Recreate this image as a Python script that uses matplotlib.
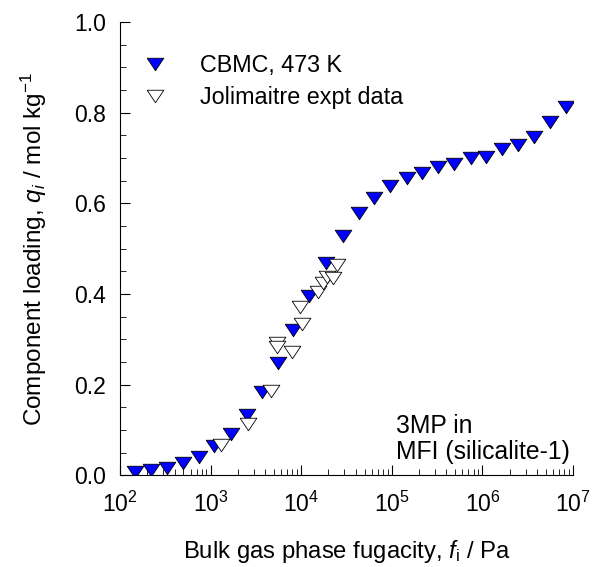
import numpy as np
from matplotlib import pyplot as plt

plt.rcParams['font.family'] = ['Liberation Sans', 'DejaVu Sans']
plt.rcParams['mathtext.fontset'] = 'custom'
plt.rcParams['mathtext.rm'] = 'Liberation Sans'
plt.rcParams['mathtext.it'] = 'Liberation Sans:italic'

# CBMC simulations, 473 K
cbmc_logf = [2.166, 2.339, 2.515, 2.692, 2.869, 3.038, 3.222, 3.398, 3.564, 3.747,
             3.913, 4.086, 4.268, 4.458, 4.641, 4.807, 4.980, 5.164, 5.330, 5.513,
             5.687, 5.871, 6.040, 6.220, 6.396, 6.570, 6.746, 6.923]
cbmc_q = [0.008, 0.011, 0.016, 0.027, 0.041, 0.064, 0.092, 0.133, 0.183, 0.248,
          0.320, 0.396, 0.468, 0.528, 0.578, 0.611, 0.638, 0.657, 0.668, 0.680,
          0.687, 0.699, 0.702, 0.719, 0.729, 0.746, 0.780, 0.812]

# Jolimaitre experimental data
expt_logf = [3.115, 3.409, 3.667, 3.730, 3.730, 3.902, 3.987, 4.014, 4.189, 4.244,
             4.288, 4.354, 4.392]
expt_q = [0.067, 0.114, 0.186, 0.292, 0.283, 0.273, 0.372, 0.334, 0.405, 0.424,
          0.438, 0.435, 0.464]

cbmc_f = np.power(10.0, cbmc_logf)
expt_f = np.power(10.0, expt_logf)

# flattened down-pointing triangle
tri = [(-1, 0.75), (1, 0.75), (0, -0.75), (-1, 0.75)]

fig = plt.figure(figsize=(5.92, 5.67), dpi=100)
ax = fig.add_axes([0.2027, 0.1614, 0.7653, 0.7998])

ax.plot(cbmc_f, cbmc_q, linestyle='none', marker=tri, markersize=12,
        markerfacecolor='#0000FF', markeredgecolor='black', markeredgewidth=0.6,
        label='CBMC, 473 K')
ax.plot(expt_f, expt_q, linestyle='none', marker=tri, markersize=12,
        markerfacecolor='white', markeredgecolor='black', markeredgewidth=0.6,
        label='Jolimaitre expt data')

ax.set_xscale('log')
ax.set_xlim(1e2, 1e7)
ax.set_ylim(0, 1.0)
ax.set_yticks([0.0, 0.2, 0.4, 0.6, 0.8, 1.0])
ax.set_yticklabels(['0.0', '0.2', '0.4', '0.6', '0.8', '1.0'])
ax.set_yticks(np.arange(0, 1.0001, 0.05), minor=True)
ax.set_xticks([1e2, 1e3, 1e4, 1e5, 1e6, 1e7])
ax.set_xticklabels(['10$^{%d}$' % k for k in range(2, 8)])

ax.spines['top'].set_visible(False)
ax.spines['right'].set_visible(False)
ax.tick_params(which='both', direction='in', labelsize=16.5)
ax.tick_params(which='major', length=7.2, width=0.8)
ax.tick_params(which='minor', length=4.5, width=0.6)
ax.tick_params(axis='x', which='major', pad=12)
ax.tick_params(axis='y', which='major', pad=10)

ax.set_xlabel('Bulk gas phase fugacity, $f_\\mathrm{i}$ / Pa', fontsize=17.2, labelpad=15)
ax.set_ylabel('Component loading, $q_i$ / mol kg$^{-1}$', fontsize=17.5, labelpad=18)

ax.legend(loc='upper left', bbox_to_anchor=(0.005, 0.95), frameon=False,
          fontsize=16.8, handletextpad=0.95, labelspacing=0.4, borderaxespad=0)

ax.text(0.61, 0.135, '3MP in\nMFI (silicalite-1)', transform=ax.transAxes,
        fontsize=17.8, ha='left', va='top', linespacing=1.1)

fig.savefig('out.png', dpi=100)
